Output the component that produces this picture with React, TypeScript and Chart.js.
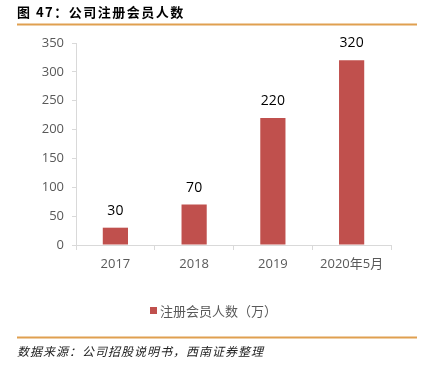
import React, { useEffect, useRef } from "react";
import { Chart, registerables } from "chart.js";

Chart.register(...registerables);

const categories = ["2017", "2018", "2019", "2020年5月"];
const members = [30, 70, 220, 320];
const seriesName = "注册会员人数（万）";
const titleText = "图 47：公司注册会员人数";
const sourceText = "数据来源：公司招股说明书，西南证券整理";

const W = 428;
const H = 366;

const decorPlugin = {
  id: "decor",
  afterDraw(chart: any) {
    const ctx = chart.ctx;
    ctx.save();
    // title
    ctx.fillStyle = "#000000";
    ctx.font = "bold 13px 'Noto Sans CJK SC', 'DejaVu Sans', sans-serif";
    ctx.textBaseline = "middle";
    ctx.textAlign = "left";
    (ctx as any).letterSpacing = "1.5px";
    ctx.fillText(titleText, 17, 12);
    (ctx as any).letterSpacing = "0px";
    // lines
    ctx.strokeStyle = "#e0a050";
    ctx.lineWidth = 2;
    ctx.beginPath();
    ctx.moveTo(17, 24.5);
    ctx.lineTo(417, 24.5);
    ctx.moveTo(17, 337.5);
    ctx.lineTo(417, 337.5);
    ctx.stroke();
    // source
    ctx.fillStyle = "#222222";
    ctx.font = "italic 12px 'Noto Sans CJK SC', sans-serif";
    (ctx as any).letterSpacing = "1px";
    ctx.fillText(sourceText, 17, 351);
    (ctx as any).letterSpacing = "0px";
    // legend
    ctx.fillStyle = "#c0504d";
    ctx.fillRect(150, 307, 7, 7);
    ctx.fillStyle = "#595959";
    ctx.font = "13px 'Noto Sans CJK SC', sans-serif";
    ctx.fillText(seriesName, 160, 311);
    // data labels
    const meta = chart.getDatasetMeta(0);
    ctx.fillStyle = "#000000";
    ctx.font = "14px 'Open Sans', 'Noto Sans', sans-serif";
    ctx.textAlign = "center";
    ctx.textBaseline = "middle";
    meta.data.forEach((bar: any, i: number) => {
      ctx.fillText(String(members[i]), bar.x, bar.y - 17);
    });
    ctx.restore();
  },
};

export default function App() {
  const ref = useRef<HTMLCanvasElement | null>(null);
  useEffect(() => {
    if (!ref.current) return;
    const chart = new Chart(ref.current, {
      type: "bar",
      data: {
        labels: categories,
        datasets: [
          {
            label: seriesName,
            data: members,
            backgroundColor: "#c0504d",
            barPercentage: 0.32,
            categoryPercentage: 1,
          },
        ],
      },
      options: {
        responsive: false,
        animation: false,
        layout: { padding: { top: 43, left: 0, right: 37, bottom: 0 } },
        plugins: {
          legend: { display: false },
          tooltip: { enabled: false },
          title: { display: false },
        },
        scales: {
          x: {
            grid: {
              offset: true,
              drawOnChartArea: false,
              drawTicks: true,
              tickLength: 5,
              color: "#d9d9d9",
            },
            border: { display: true, color: "#d9d9d9" },
            ticks: {
              color: "#595959",
              padding: 6,
              font: { size: 13, family: "'Open Sans', 'Noto Sans CJK SC', sans-serif" },
              maxRotation: 0,
            },
            afterFit: (s: any) => {
              s.height = H - 245;
            },
          },
          y: {
            min: 0,
            max: 350,
            ticks: {
              stepSize: 50,
              color: "#595959",
              padding: 8,
              font: { size: 13, family: "'Open Sans', sans-serif" },
            },
            grid: {
              drawOnChartArea: false,
              drawTicks: true,
              tickLength: 4,
              color: "#d9d9d9",
            },
            border: { display: true, color: "#d9d9d9" },
            afterFit: (s: any) => {
              s.width = 76;
            },
          },
        },
      },
      plugins: [decorPlugin],
    });
    return () => chart.destroy();
  }, []);
  return (
    <div style={{ position: "fixed", left: 0, top: 0, width: W, height: H, background: "#fff" }}>
      <canvas ref={ref} width={W} height={H} style={{ width: W, height: H, display: "block" }} />
    </div>
  );
}
